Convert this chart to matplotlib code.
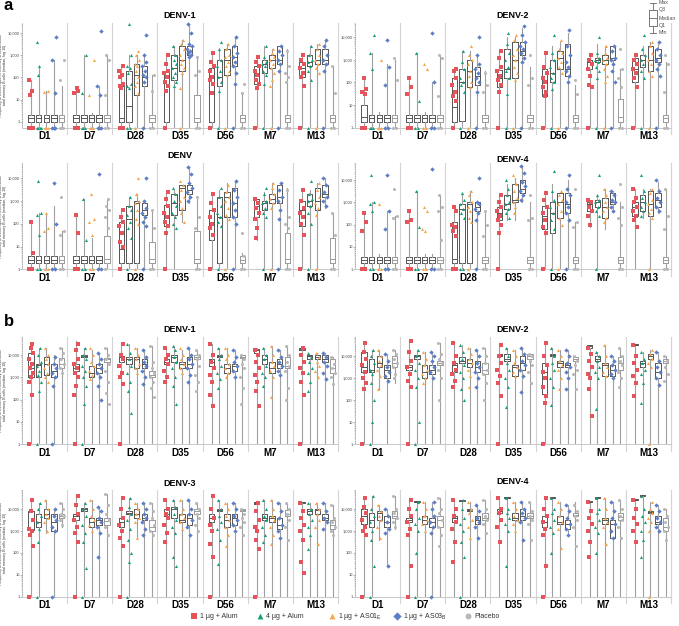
import numpy as np
import matplotlib
matplotlib.use("Agg")
import matplotlib.pyplot as plt

plt.rcParams['font.family'] = ['Liberation Sans', 'DejaVu Sans']

TIMEPOINTS = ['D1', 'D7', 'D28', 'D35', 'D56', 'M7', 'M13']
GROUPS = ['1 µg + Alum', '4 µg + Alum', r'1 µg + AS01$_\mathregular{E}$',
          r'1 µg + AS03$_\mathregular{B}$', 'Placebo']
COLORS = ['#E5535B', '#17A077', '#F6A64B', '#5B7EC6', '#B8B8B8']
MARKERS = ['s', '^', '^', 'D', 'o']
TICK_LABELS = ['1', '10', '100', '1,000', '10,000']

# Values are log10(frequency per million); "z" = zero (drawn on the baseline)
# box strings: "whisker_low q1 median q3 whisker_high"; order: timepoint x group
A_DENV1_BOX = [
    "z 0 .15 .3 1.9", "z 0 .15 .3 2.5", "z 0 .15 .3 1.4", "z 0 .15 .3 2.8", "z 0 .15 .3 1.6",
    "z 0 .15 .3 1.5", "z 0 .15 .3 3.0", "z 0 .15 .3 .4", "z 0 .15 .3 1.6", "z 0 .15 .3 3.0",
    "z 0 .15 1.6 2.5", "z 0 .7 2.3 3.0", "z 1.2 2.1 2.6 3.0", "z 1.6 2.0 2.5 3.0", "z 0 .15 .3 2.1",
    "z 0 2.0 2.3 3.0", "z 1.9 2.4 3.0 3.4", "z 2.3 2.8 3.4 3.7", "z 3.0 3.2 3.4 4.4", "z 0 .15 1.2 2.9",
    "z 0 2.0 2.4 3.1", "z 1.6 2.0 2.8 3.3", "z 2.1 2.8 3.3 3.5", "z 2.5 2.9 3.4 3.8", "z 0 .15 .3 1.3",
    "z 1.7 2.2 2.5 2.9", "z 2.2 2.6 2.8 3.4", "z 2.4 2.8 3.0 3.3", "z 2.6 2.8 3.4 3.4", "z 0 .15 .3 3.3",
    "z 2.0 2.4 2.7 3.0", "z 2.5 2.7 3.0 3.4", "z 2.6 2.8 3.3 3.5", "z 2.6 2.8 3.3 3.7", "z 0 .15 .3 2.5"]
A_DENV1_PTS = [
    "z z z z 1.9 1.4 1.2", "z z z z 3.6 2.5 2.1", "z z z 1.4 1.35", "z z z 3.8 2.8 1.3", "z z z 2.8 1.9",
    "z z z 1.4 1.3 1.5", "z z z 3.0 1.3", "z z z 2.8 1.2", "z z z 4.1 1.6 1.2", "z z 3.0 2.8 1.2",
    "z z z 2.5 2.3 2.1 2.0 1.7 1.5 1.6", "z z 4.4 3.0 2.5 2.4 2.2 1.7 1.5 1.6",
    "z 3.2 3.0 2.8 2.6 2.5 2.3 2.0 1.8 1.6 1.3", "z 3.9 3.0 2.7 2.5 2.3 2.1 2.0 1.8", "z z 1.4 2.1",
    "z 3.0 2.6 2.3 2.2 2.0 1.8 1.6 1.4", "3.4 3.0 2.8 2.6 2.4 2.2 2.0 1.8 1.6",
    "z 3.7 3.5 3.3 3.0 2.8 2.6 2.4 2.2 1.5", "4.4 4.0 3.5 3.4 3.3 3.2 3.1 3.0 2.9", "z z 2.9 2.3 2.1",
    "z 3.1 2.7 2.5 2.3 2.0 1.9 1.7 1.3", "z 3.6 3.3 2.8 2.5 2.3 2.0 1.8 1.4",
    "z 3.5 3.3 3.0 2.9 2.7 2.5 2.3 2.1", "z 3.8 3.4 3.1 2.9 2.7 2.5 2.2 1.7", "z z 1.3 1.7",
    "z 2.9 2.7 2.5 2.3 2.1 1.9 1.7 1.5", "z 3.4 2.9 2.7 2.6 2.5 2.3 2.1 1.7",
    "z 3.3 3.1 2.9 2.8 2.6 2.4 2.2 1.9 1.6", "z 3.4 3.2 3.0 2.8 2.6 2.3", "z z 3.2 2.5 2.2 2.0 1.8",
    "z 3.0 2.8 2.6 2.4 2.2 2.0 1.6", "z 3.4 3.0 2.8 2.7 2.5 2.3 1.9",
    "z 3.5 3.3 3.0 2.8 2.6 2.4 2.2", "z 3.7 3.4 3.0 2.8 2.6 2.3", "z z 2.5 1.3"]

A_DENV2_BOX = [
    "z .27 .48 1.0 2.2", "z .27 .42 .57 3.3", "z .27 .42 .57 .7", "z .27 .42 .57 2.8", "z .27 .42 .57 3.0",
    "z .27 .42 .57 2.2", "z .27 .42 .57 3.3", "z .27 .42 .57 .7", "z .27 .42 .57 2.0", "z .27 .42 .57 3.2",
    "z .27 .9 2.2 2.6", "z .3 2.0 2.6 3.4", "z 1.8 2.5 3.0 3.4", "z 1.9 2.3 2.7 3.2", "z .27 .42 .57 2.5",
    "z 1.8 2.2 2.55 3.4", "z 2.2 2.6 3.5 4.0", "z 2.2 3.0 3.8 4.0", "z 3.2 3.4 3.8 4.4", "z .27 .42 .57 2.7",
    "z 1.4 2.0 2.6 3.3", "z 2.0 2.4 3.0 3.6", "z 2.6 3.1 3.4 3.8", "z 2.3 2.6 3.7 4.2", "z .27 .42 .57 1.9",
    "z 2.6 2.9 3.0 3.2", "z 2.9 3.0 3.1 3.7", "z 2.8 3.0 3.2 3.6", "z 3.0 3.1 3.6 3.6", "z .27 .48 1.25 2.6",
    "z 2.0 2.6 3.1 3.2", "z 2.7 3.0 3.2 3.6", "z 2.5 3.0 3.6 3.8", "z 2.9 3.1 3.5 3.7", "z .27 .42 .57 2.9"]
A_DENV2_PTS = [
    "z z 2.2 1.7 1.6 1.5", "z z z 4.1 3.3 2.6", "z z z 3.0", "z z 3.9 2.7 1.9", "z z 3.1 2.1",
    "z z 2.2 1.8 1.5", "z z 3.3 1.2", "z z 2.8 2.6", "z z 4.2 2.0", "z z 3.2 3.1 1.4",
    "z 2.6 2.5 2.2 1.9 1.6 1.4 1.2", "z 3.4 2.9 2.6 2.2 2.0 1.9 1.6",
    "z 3.6 3.2 3.0 2.8 2.5 2.3 2.0 1.8", "z 4.0 3.2 2.8 2.6 2.4 2.2 2.0 1.6", "z z 2.4 1.9 1.6",
    "z 3.4 3.1 2.7 2.5 2.3 2.1 1.9 1.6", "z 4.2 3.7 3.3 3.0 2.7 2.5 2.2 1.5",
    "z 4.1 3.9 3.5 3.2 3.0 2.7 2.4 2.1", "z 4.5 4.1 3.8 3.6 3.5 3.3 3.1 2.9", "z z 3.2 2.2 1.9",
    "z 3.3 2.7 2.4 2.2 2.0 1.8 1.6 1.4", "z 4.1 3.3 3.0 2.7 2.4 2.2 2.0 1.7",
    "z 3.9 3.5 3.3 3.1 2.9 2.7 2.4", "z 4.3 3.6 3.2 2.9 2.7 2.5 2.3 2.0", "z z 2.1 1.5",
    "z 3.2 3.0 2.8 2.6 2.3 1.9 1.8", "z 4.0 3.3 3.1 3.0 2.9 2.7 2.5 2.2",
    "z 3.6 3.3 3.1 3.0 2.8 2.6 2.3 2.0", "z 3.6 3.4 3.1 3.0 2.8 2.5 2.0", "z z 3.5 2.6 2.2 1.8",
    "z 3.2 3.0 2.8 2.6 2.4 2.2 1.8", "z 4.1 3.5 3.2 3.0 2.8 2.5 2.2",
    "z 3.8 3.6 3.3 3.0 2.8 2.5 2.3", "z 3.8 3.5 3.2 3.0 2.8 2.6 2.3", "z z 3.2 2.8 1.6"]

A_DENV_BOX = [
    "z .27 .42 .57 2.1", "z .27 .42 .57 2.5", "z .27 .42 .57 2.5", "z .27 .42 .57 2.8", "z .27 .42 .57 1.7",
    "z .27 .42 .57 2.4", "z .27 .42 .57 3.1", "z .27 .42 .57 1.4", "z .27 .42 .57 .6", "z .27 .45 1.45 3.1",
    "z .27 .9 2.1 2.6", "z .27 2.2 2.8 3.2", "z .27 2.9 3.0 3.3", "z 2.4 2.6 2.9 3.0", "z .27 .45 1.2 2.6",
    "z 1.9 2.3 2.85 3.3", "z 2.4 2.9 3.3 3.5", "2.1 2.6 3.6 3.7 3.7", "2.9 3.3 3.5 3.7 4.5", "z .27 .45 1.7 3.2",
    "z 1.3 2.0 2.6 3.3", "z .27 2.3 3.2 3.5", "z 2.3 3.2 3.4 3.8", "z 2.3 2.9 3.6 3.9", "z .27 .42 .6 .7",
    "1.3 2.3 2.8 3.1 3.1", "z 2.6 2.9 3.0 3.4", "z 2.9 3.1 3.3 3.8", "z 2.9 3.2 3.7 3.8", "z .27 .45 1.6 3.6",
    "z 1.9 2.6 3.0 3.5", "z 2.8 3.0 3.3 3.5", "z 2.6 3.0 3.6 3.8", "2.7 3.2 3.3 3.7 4.0", "z .27 .45 1.4 2.5"]
A_DENV_PTS = [
    "z z 2.1 .7", "z z 3.9 2.5 2.4 1.5", "z z 2.5 1.8 1.7", "z z 3.8 2.0", "z z 3.2 1.7 1.5",
    "z z 2.4 1.6", "z z 3.1 1.3", "z z 3.3 2.2 2.1 1.5", "z z 4.2", "z 3.1 2.8 2.6 2.3 1.8",
    "z 2.6 2.3 2.1 1.9 1.6 1.2 1.0", "z 3.2 2.8 2.6 2.4 2.1 1.8 1.4",
    "z 4.0 3.3 3.0 2.9 2.6 2.2 2.0", "z 4.0 3.0 2.7 2.5 2.3 2.1 1.9", "z z 2.6 1.8",
    "z 3.4 3.1 2.8 2.5 2.3 2.1 1.9 1.6", "3.6 3.3 3.0 2.8 2.5 2.3 2.0 1.8",
    "3.9 3.7 3.5 3.2 3.0 2.7 2.5 2.1", "4.5 4.2 3.8 3.6 3.4 3.2 3.0", "z z 3.2 2.3 1.8",
    "z 3.3 2.9 2.6 2.3 2.0 1.8 1.5", "z 3.6 3.2 2.8 2.5 2.3 2.1 1.9",
    "z 3.7 3.4 3.2 3.0 2.7 2.4 2.2", "z 3.9 3.5 3.2 2.9 2.6 2.3 2.0", "z z 1.6 .6",
    "3.1 2.9 2.7 2.5 2.2 1.8 1.4", "z 3.6 3.3 3.0 2.9 2.7 2.5 2.3",
    "z 3.8 3.6 3.3 3.1 2.9 2.7", "z 3.8 3.5 3.2 3.0 2.6 2.2", "z z 3.5 2.3 2.0 1.8",
    "z 3.5 3.0 2.7 2.5 2.3 2.0 1.5", "z 3.9 3.3 3.1 3.0 2.8 2.5 2.0",
    "z 3.8 3.5 3.2 2.9 2.7 2.4", "4.0 3.7 3.4 3.2 3.0 2.8", "z z 2.5 1.5"]

A_DENV4_BOX = [
    "z .27 .42 .57 2.5", "z .27 .42 .57 3.0", "z .27 .42 .57 .7", "z .27 .42 .57 2.6", "z .27 .42 .57 2.4",
    "z .27 .42 .57 2.6", "z .27 .42 .57 3.5", "z .27 .42 .57 .7", "z .27 .42 .57 .7", "z .27 .42 .57 3.3",
    "z .27 .45 2.1 2.8", "z .27 2.7 2.9 3.4", "z .27 2.9 3.0 3.5", "z 2.6 2.8 3.0 3.0", "z .27 .42 .57 2.6",
    "z 2.2 2.5 2.8 3.3", "2.2 2.7 2.9 3.3 3.8", "2.2 3.0 3.1 3.8 4.1", "3.0 3.4 3.6 4.0 4.6", "z .27 .42 .57 3.0",
    "z 1.8 2.4 2.85 3.4", "z 1.6 2.5 3.0 3.8", "z 2.3 3.0 3.4 3.4", "z 2.5 2.9 3.4 4.0", "z .27 .42 .57 2.1",
    "1.9 2.6 2.9 3.0 3.1", "z 2.8 3.0 3.1 3.3", "1.8 2.3 2.8 3.2 3.6", "2.6 2.9 3.0 3.4 3.5", "z .27 .42 .57 3.0",
    "z 2.4 2.8 3.0 3.6", "2.3 2.6 3.0 3.3 3.6", "z 2.4 2.9 3.5 3.6", "2.5 2.8 3.1 3.4 3.9", "z .27 .42 .57 3.6"]
A_DENV4_PTS = [
    "z z 2.5 2.1 1.7", "z z 4.2 3.0 2.9 2.6", "z z 2.9", "z z 4.2 2.6 1.8", "z z 3.6 2.4 2.3",
    "z z 2.6 2.2 2.1", "z z 3.5 1.9", "z z 2.8 2.6 1.8 1.7", "z z 4.5", "z z 3.3 2.8 2.6 1.3",
    "z z 2.8 2.6 2.0 1.9 1.7 1.5", "z z 3.4 3.1 2.9 2.7 2.5 2.3",
    "z 3.5 3.3 3.0 2.8 2.6 2.3 2.1", "z 4.1 3.0 2.9 2.7 2.5 2.2", "z z 2.6 2.0 1.5",
    "z 3.3 3.0 2.8 2.6 2.4 2.2 2.0 1.6", "4.0 3.6 3.3 3.0 2.9 2.7 2.5 2.3",
    "4.2 3.8 3.5 3.2 3.0 2.8 2.5", "4.6 4.3 3.9 3.7 3.5 3.3 3.1", "z z 3.3 2.3 2.2",
    "z 3.4 3.1 2.8 2.5 2.2 1.9 1.6", "z 4.4 3.5 3.1 2.8 2.5 2.2 1.8",
    "z 3.5 3.3 3.1 2.9 2.6 2.3 2.0", "z 4.2 3.6 3.3 3.0 2.8 2.5 2.2", "z z 3.6 2.1 1.9",
    "3.1 3.0 2.8 2.6 2.4 2.0", "z 4.2 3.3 3.1 3.0 2.8 2.6 2.4",
    "3.6 3.3 3.0 2.8 2.6 2.3 2.1", "3.5 3.3 3.1 3.0 2.8 2.6", "z z 3.8 2.8 2.3 2.0",
    "3.6 3.2 3.0 2.8 2.6 2.4 2.2 1.9", "4.2 3.5 3.2 3.0 2.8 2.6 2.4",
    "z 3.6 3.4 3.1 2.9 2.7 2.5 2.3", "4.0 3.5 3.2 3.0 2.8 2.6", "z z 3.6 2.4 1.8"]

B_DENV1_BOX = [
    "z 3.0 3.4 4.07 4.5", "z 3.0 3.55 3.6 4.3", "z 3.1 3.6 3.9 4.3", "z 3.0 3.3 3.6 4.0", "z 3.4 3.6 3.85 4.3",
    "z 3.3 3.4 3.6 4.6", "z 3.9 3.95 4.0 4.3", "z 3.0 3.2 3.5 4.2", "z 3.2 3.4 3.6 4.1", "z 3.7 3.8 3.85 4.3",
    "z 3.7 3.9 3.95 4.5", "z 3.6 3.8 3.9 4.5", "z 3.4 3.8 3.9 4.3", "z 3.4 3.6 3.8 4.2", "z 3.0 3.1 3.3 4.4",
    "z 3.6 3.7 3.8 4.3", "z 3.7 3.9 4.0 4.4", "z 3.4 3.6 3.7 4.2", "z 3.4 3.6 3.9 4.3", "z 3.8 3.9 4.0 4.2",
    "z 3.5 3.7 3.8 4.5", "z 3.9 3.95 4.0 4.3", "z 3.2 3.4 3.6 4.3", "z 3.3 3.5 3.6 4.2", "z 3.85 3.9 4.0 4.0",
    "z 4.1 4.2 4.25 4.3", "z 3.6 3.8 4.0 4.3", "z 3.2 3.4 3.7 4.4", "z 3.4 3.6 3.8 4.2", "z 3.4 3.5 3.9 4.4",
    "z 4.2 4.25 4.3 4.3", "z 3.8 3.95 4.0 4.0", "z 3.8 3.9 4.0 4.1", "z 3.7 3.8 4.0 4.1", "z 3.2 3.4 3.8 3.9"]
B_DENV1_PTS = [
    "z 4.5 4.3 4.1 3.8 3.6 3.4 3.2 3.0 2.8 2.2", "z 4.3 4.0 3.7 3.5 3.3 3.1 2.8 2.4",
    "4.3 4.0 3.8 3.6 3.4 3.2 3.0 2.8", "z 3.9 3.6 3.4 3.2 3.0 2.6", "4.3 4.1 3.8 3.6 3.4 3.2",
    "z 4.5 4.2 3.8 3.6 3.4 3.2 3.0 2.6 2.2", "z 4.3 4.0 3.8 3.5 3.3 3.0 2.6 1.8",
    "4.3 4.0 3.7 3.5 3.3 3.1 2.9", "4.1 3.8 3.6 3.4 3.2 3.0 2.6 2.0", "4.3 4.0 3.8 3.6 3.3 2.8 2.3 1.8",
    "z 4.5 4.0 3.8 3.5 3.2 3.0 2.7", "4.5 4.1 3.8 3.5 3.2 2.8 2.4 1.4",
    "4.3 4.0 3.8 3.6 3.4 3.2", "4.2 3.9 3.7 3.5 3.3 3.0 2.7", "4.4 3.7 3.4 3.2 3.0 2.8 2.5 2.1",
    "4.3 4.0 3.8 3.6 3.3 3.0 2.8", "4.4 4.2 3.9 3.7 3.4 3.0 2.6 1.8",
    "4.3 4.0 3.8 3.6 3.4 3.2", "4.3 4.0 3.8 3.6 3.4 3.1 2.8", "4.2 4.0 3.8 3.5 3.1 2.8 2.4",
    "4.5 4.0 3.7 3.4 3.1 2.8 2.2 1.7", "4.3 4.0 3.8 3.5 3.2 2.9 2.5",
    "4.3 4.0 3.8 3.6 3.4 3.2 3.0", "4.2 3.9 3.7 3.5 3.3 3.0", "4.0 3.8 3.6 3.4 3.0 2.5 1.8",
    "4.2 4.0 3.7 3.4 3.1 2.8 2.4 1.7", "4.3 4.0 3.8 3.5 3.2 3.0 2.6",
    "4.4 4.0 3.7 3.5 3.3 3.0 2.1", "4.2 3.9 3.7 3.5 3.3 3.1", "4.4 4.0 3.7 3.5 3.3 2.5 2.0",
    "z 4.3 4.0 3.7 3.4 3.2 2.8 2.2", "4.1 3.9 3.7 3.4 3.2 2.8 2.4",
    "4.1 3.9 3.7 3.5 3.3 3.0", "4.1 3.9 3.7 3.5 3.2 2.9", "3.9 3.6 3.4 3.2 3.0 2.7"]

B_DENV2_BOX = [
    "z 3.3 3.5 4.2 4.6", "z 3.3 3.4 3.9 4.3", "2.5 3.5 3.7 4.0 4.3", "z 3.0 3.4 3.6 4.1", "2.8 3.5 3.7 4.0 4.3",
    "z 3.4 3.5 3.6 4.7", "z 3.9 4.0 4.05 4.3", "z 3.0 3.3 3.6 4.2", "z 3.2 3.4 3.6 4.2", "z 3.6 3.7 3.8 4.6",
    "z 3.3 3.6 3.7 4.6", "z 3.7 3.8 3.95 4.5", "z 3.5 3.7 3.9 4.4", "z 3.3 3.5 3.8 4.3", "z 3.2 3.4 3.7 4.4",
    "z 4.0 4.05 4.1 4.6", "z 3.8 3.9 4.1 4.4", "z 3.1 3.5 3.6 4.3", "z 3.4 3.7 4.0 4.4", "z 3.9 4.0 4.1 4.1",
    "z 2.3 3.3 3.7 4.6", "z 4.0 4.05 4.1 4.4", "z 3.5 3.7 3.8 4.3", "z 3.5 3.6 3.7 4.3", "z 3.8 3.9 3.95 4.0",
    "z 4.4 4.45 4.5 4.5", "z 3.8 3.9 4.0 4.2", "z 3.1 3.6 3.7 4.5", "z 3.1 3.4 3.6 4.0", "z 3.4 3.7 3.95 4.4",
    "z 4.5 4.52 4.55 4.55", "z 3.5 3.7 3.8 4.2", "z 3.9 4.0 4.1 4.3", "z 3.0 3.3 3.7 4.2", "z 3.7 3.8 3.9 4.0"]
B_DENV2_PTS = [
    "z 4.6 4.2 3.9 3.6 3.3 3.0 2.8 2.5", "z 4.3 4.0 3.7 3.4 3.2 2.8 2.0 1.0",
    "4.3 4.0 3.8 3.6 3.4 3.1 2.5", "4.1 3.8 3.5 3.3 3.1 2.9", "4.3 4.1 3.9 3.7 3.5 3.2 3.0",
    "z 4.7 4.2 3.8 3.5 3.2 2.9 2.6", "z 4.3 4.0 3.7 3.4 3.0 2.6 1.0",
    "4.2 3.9 3.6 3.4 3.2 3.0 2.8", "4.2 4.0 3.8 3.5 3.3 3.0", "4.6 4.1 3.9 3.7 3.4 3.0 2.0",
    "4.6 4.0 3.7 3.4 3.2 2.9 2.6", "4.5 4.2 3.9 3.6 3.3 3.0 2.5 2.0",
    "4.4 4.1 3.9 3.7 3.4 3.1 2.6", "4.3 4.0 3.7 3.5 3.3 3.0 2.6", "4.4 4.0 3.7 3.4 3.2 2.8 2.0",
    "z 4.5 4.0 3.7 3.4 3.1 2.8 2.2", "4.4 4.0 3.7 3.4 3.0 2.6 1.7",
    "4.3 4.0 3.7 3.5 3.3 3.1", "4.4 4.1 3.8 3.6 3.4 3.1 2.4", "4.1 4.0 3.8 3.6 3.3 2.8",
    "z 4.6 4.0 3.6 3.3 3.0 2.6 2.2 1.9", "4.4 4.0 3.7 3.4 3.0 2.6 1.8",
    "4.3 4.0 3.8 3.6 3.4 3.0 2.5", "4.3 4.0 3.7 3.5 3.3 3.0 2.5", "4.0 3.8 3.6 3.4 3.2 2.5",
    "4.4 4.1 3.8 3.5 3.2 3.0 2.5 1.3", "4.2 4.0 3.8 3.5 3.3 3.0 1.6",
    "4.5 4.0 3.7 3.5 3.3 3.1", "4.0 3.8 3.6 3.4 3.2 3.0", "4.4 4.0 3.8 3.6 3.3 3.0 2.6",
    "4.5 4.0 3.7 3.4 3.1 2.8 2.2", "4.2 3.9 3.7 3.4 3.2 2.8 1.9",
    "z 4.3 4.1 3.9 3.7 3.5", "4.2 3.8 3.5 3.3 3.0 2.7", "4.0 3.8 3.5 3.2 2.9"]

B_DENV3_BOX = [
    "z 3.05 3.1 3.9 4.5", "z 3.2 3.4 3.8 4.3", "2.9 3.6 3.8 4.0 4.4", "z 3.0 3.4 3.8 4.0", "3.2 3.6 3.7 3.8 4.3",
    "z 3.5 3.7 3.8 4.6", "z 3.9 4.0 4.05 4.3", "z 3.2 3.4 3.6 4.4", "z 3.3 3.5 3.6 4.1", "z 3.3 3.45 3.6 4.7",
    "z 3.2 3.4 3.6 4.5", "z 3.8 3.85 3.9 4.5", "2.7 3.6 3.8 4.0 4.3", "z 3.5 3.6 3.8 4.3", "z 3.0 3.2 3.5 4.3",
    "z 3.7 3.8 4.0 4.4", "z 3.6 4.0 4.1 4.4", "z 3.4 3.5 3.8 4.4", "z 3.3 3.6 3.8 4.4", "z 3.8 3.9 4.0 4.3",
    "z 3.4 3.6 3.8 4.6", "z 3.9 3.95 4.0 4.4", "z 3.2 3.5 3.8 4.3", "z 3.3 3.6 3.8 4.3", "z 3.9 3.95 4.0 4.0",
    "z 4.25 4.3 4.35 4.35", "z 3.5 3.6 3.8 4.4", "z 3.4 3.6 3.7 4.4", "z 3.1 3.3 3.6 4.3", "z 3.7 3.8 3.95 4.3",
    "z 4.3 4.32 4.35 4.35", "z 3.8 3.9 4.0 4.3", "z 3.8 3.95 4.0 4.3", "z 3.5 3.6 3.8 4.3", "z 3.1 3.3 3.5 4.2"]
B_DENV3_PTS = [
    "z 4.4 3.9 3.5 3.1 3.0 2.8 2.3", "z 4.3 4.0 3.7 3.4 3.1 2.5",
    "4.4 4.0 3.8 3.6 3.4 3.0", "z 4.0 3.7 3.5 3.2 3.0", "4.3 4.0 3.8 3.7 3.5 3.3",
    "z 4.6 4.2 3.8 3.5 3.2 2.9 2.5", "z 4.3 4.0 3.7 3.3 2.9 2.5 1.3",
    "4.4 4.0 3.7 3.5 3.3 3.0", "4.1 3.9 3.6 3.4 3.2 2.9 1.8", "4.7 4.2 3.8 3.5 3.2 2.8",
    "z 4.5 4.0 3.6 3.3 3.0 2.7 2.3", "z 4.5 4.1 3.8 3.5 3.1 2.6 2.0 1.6",
    "4.3 4.0 3.8 3.6 3.4 2.7", "4.3 4.0 3.8 3.6 3.4 3.1 2.8", "4.3 3.9 3.6 3.3 3.0 2.8",
    "4.4 4.0 3.8 3.6 3.3 2.9 2.5", "4.4 4.1 3.8 3.5 3.2 2.9 1.8 1.4",
    "4.4 4.0 3.8 3.6 3.4 3.1", "4.4 4.0 3.8 3.5 3.2 2.8", "4.3 4.0 3.8 3.6 3.3 3.0",
    "z 4.6 4.0 3.6 3.3 3.0 2.4 1.8", "4.4 4.0 3.7 3.4 3.1 2.6 1.5",
    "4.3 4.0 3.7 3.5 3.2 2.8 2.3", "4.3 4.0 3.7 3.5 3.3 3.0", "4.0 3.8 3.6 3.4 3.2 2.8",
    "z 4.3 3.9 3.5 3.2 3.0 2.6 2.2", "4.4 4.0 3.7 3.5 3.2 2.8 2.5",
    "4.4 4.0 3.7 3.5 3.2 2.8 2.4", "4.3 3.9 3.6 3.3 3.0 2.7", "4.3 4.0 3.8 3.5 3.2 2.6",
    "4.3 3.9 3.6 3.3 3.0 2.6 1.6 1.1", "4.3 4.0 3.8 3.5 3.2 2.8 2.2",
    "4.3 4.0 3.8 3.5 3.2 2.4", "4.3 3.9 3.6 3.4 3.1", "4.2 3.6 3.4 3.2 3.0 2.8"]

B_DENV4_BOX = [
    "z 3.3 3.7 4.0 4.5", "z 3.2 3.5 3.8 4.6", "2.6 3.5 3.8 3.9 4.2", "1.4 3.2 3.4 3.7 4.0", "3.1 3.6 3.7 3.9 4.6",
    "z 3.4 3.5 3.6 4.4", "z 4.3 4.32 4.35 4.35", "z 3.3 3.5 3.7 4.3", "z 3.2 3.4 3.6 4.3", "z 3.2 3.5 3.7 4.5",
    "z 3.4 3.6 3.7 4.4", "z 4.35 4.38 4.4 4.4", "z 3.9 3.95 4.0 4.3", "z 3.3 3.5 3.7 4.2", "z 3.5 3.6 3.8 4.4",
    "z 3.8 3.9 4.0 4.5", "z 4.5 4.52 4.55 4.55", "z 3.5 3.6 3.8 4.3", "z 3.5 3.7 4.0 4.3", "z 3.6 3.7 3.8 4.3",
    "z 3.2 3.4 3.7 4.5", "z 4.5 4.52 4.55 4.55", "z 3.3 3.4 3.7 4.3", "2.8 3.1 3.3 3.5 4.2", "z 3.7 3.75 3.8 4.3",
    "z 4.3 4.32 4.35 4.35", "z 4.5 4.52 4.55 4.55", "z 3.3 3.5 3.6 4.5", "z 2.7 3.3 3.5 4.3", "z 3.5 3.65 3.8 4.4",
    "z 4.4 4.42 4.45 4.45", "z 4.6 4.62 4.65 4.65", "z 3.8 3.85 3.9 4.3", "z 3.3 3.4 3.7 4.2", "z 3.0 3.2 3.6 4.0"]
B_DENV4_PTS = [
    "z 4.5 4.1 3.8 3.5 3.2 3.0 2.8", "z 4.6 4.0 3.7 3.4 3.0 2.6 1.4",
    "4.2 3.9 3.7 3.5 3.2 2.7", "4.0 3.7 3.4 3.1 2.9 1.4", "4.6 4.0 3.8 3.6 3.4 3.2",
    "z 4.4 4.0 3.7 3.4 3.1 2.8 1.4", "z 4.3 4.0 3.6 3.3 3.0 2.0",
    "4.3 4.0 3.7 3.5 3.3 3.0", "z 4.3 4.0 3.7 3.4 3.2 2.9", "4.5 4.0 3.8 3.5 3.2 2.8 2.3",
    "4.4 4.0 3.7 3.4 3.1 2.5 1.6", "z 4.4 4.0 3.6 3.3 3.0 2.5 1.8",
    "4.3 4.0 3.8 3.5 3.2 2.7", "4.2 3.9 3.6 3.4 3.2 2.7", "4.4 4.0 3.7 3.5 3.3 2.9",
    "4.5 4.0 3.8 3.5 3.2 2.5", "4.5 4.0 3.8 3.6 3.3 3.0 1.4",
    "4.3 4.0 3.7 3.5 3.3 3.0", "4.3 4.0 3.8 3.6 3.4 2.6", "4.3 3.9 3.7 3.5 3.3 2.6",
    "z 4.5 4.0 3.7 3.4 3.1 2.8 1.4", "4.5 4.0 3.8 3.5 3.2 2.9 2.0",
    "4.3 4.0 3.7 3.4 3.1 2.2", "4.2 3.9 3.6 3.3 3.1 2.8", "4.2 3.9 3.7 3.5 3.2 2.3",
    "4.3 3.9 3.6 3.3 3.0 2.5 1.8", "4.5 4.0 3.8 3.5 3.2 2.9 2.0",
    "4.5 4.0 3.6 3.4 3.2 2.4", "4.3 3.9 3.6 3.3 3.0 2.7", "4.4 4.0 3.7 3.5 3.2 2.7",
    "4.4 4.0 3.6 3.3 3.0 2.5", "4.6 4.0 3.7 3.4 3.0 2.6 1.8",
    "z 4.3 4.0 3.8 3.6 3.4 3.0", "4.2 3.9 3.6 3.4 3.2 3.0", "4.0 3.7 3.4 3.2 3.0 2.6"]

W, H = 679, 626
fig = plt.figure(figsize=(W / 100, H / 100), dpi=100)

# (box data, point data, title, x0, x1, ytop, ybottom, ylim, title_y, ylabel)
PANELS = [
    (A_DENV1_BOX, A_DENV1_PTS, 'DENV-1', 22, 338, 23, 127.7, (-0.27, 4.45), 15.5, True),
    (A_DENV2_BOX, A_DENV2_PTS, 'DENV-2', 355, 671, 23, 127.7, (0, 4.63), 15.5, False),
    (A_DENV_BOX, A_DENV_PTS, 'DENV', 22, 338, 163, 269.3, (0, 4.68), 156, True),
    (A_DENV4_BOX, A_DENV4_PTS, 'DENV-4', 355, 671, 163, 269.3, (0, 4.75), 160, False),
    (B_DENV1_BOX, B_DENV1_PTS, 'DENV-1', 22, 338, 337, 444.3, (0, 4.8), 329, True),
    (B_DENV2_BOX, B_DENV2_PTS, 'DENV-2', 355, 671, 337, 444.3, (0, 4.88), 330, False),
    (B_DENV3_BOX, B_DENV3_PTS, 'DENV-3', 22, 338, 490, 596.7, (0, 4.88), 483, True),
    (B_DENV4_BOX, B_DENV4_PTS, 'DENV-4', 355, 671, 490, 596.7, (0, 4.87), 482, False),
]

JIT = np.array([-0.035, 0.03, -0.01, 0.045, -0.045, 0.015, -0.025, 0.04, 0.0, -0.04, 0.02])
BOXW = 0.12
NARROW = ['Liberation Sans Narrow', 'Liberation Sans', 'DejaVu Sans']
YLAB = "Frequency of DENV-specific memory B cells/million\ntotal memory B cells (median, log 10)"


def parse(s, zero):
    return [zero if t == 'z' else float(t) for t in s.split()]


for box, pts, title, x0, x1, yt, yb, ylim, ty, ylab in PANELS:
    ax = fig.add_axes([x0 / W, 1 - yb / H, (x1 - x0) / W, (yb - yt) / H])
    zero = ylim[0]
    stats, pos = [], []
    for k, s in enumerate(box):
        t, g = divmod(k, 5)
        lo, q1, med, q3, hi = parse(s, zero)
        stats.append(dict(med=med, q1=q1, q3=q3, whislo=lo, whishi=hi, fliers=[]))
        pos.append(t + 0.2 + g * 0.17)
    for g in range(5):
        sel = [k for k in range(len(box)) if k % 5 == g]
        ec = '#9a9a9a' if g == 4 else '#555555'
        ax.bxp([stats[k] for k in sel], positions=[pos[k] for k in sel], widths=BOXW,
               showcaps=False, showfliers=False, manage_ticks=False,
               boxprops=dict(color=ec, lw=0.7),
               medianprops=dict(color=ec, lw=0.7),
               whiskerprops=dict(color='#a0a0a0', lw=0.8), zorder=2)
    for k, s in enumerate(pts):
        g = k % 5
        vals = parse(s, zero)
        xs = pos[k] + JIT[np.arange(len(vals)) % len(JIT)]
        ax.scatter(xs, vals, s=5, marker=MARKERS[g], color=COLORS[g], lw=0,
                   zorder=3, clip_on=False)
    ax.set_xlim(0, 7)
    ax.set_ylim(*ylim)
    for xv in range(1, 8):
        ax.axvline(xv, ymin=-0.06, ymax=1, color='#d4d4d4', lw=0.8, clip_on=False, zorder=1)
    ax.set_xticks(np.arange(7) + 0.5)
    ax.set_xticklabels(TIMEPOINTS, fontsize=7, fontweight='bold', family=NARROW)
    ax.tick_params(axis='x', length=0, pad=2.5)
    ax.set_yticks(range(5))
    ax.set_yticklabels(TICK_LABELS)
    minors = [d + np.log10(m) for d in range(5) for m in range(2, 10)
              if d + np.log10(m) < ylim[1]]
    ax.set_yticks(minors, minor=True)
    ax.tick_params(axis='y', which='major', labelsize=2.9, length=1.2, width=0.4,
                   color='#888888', pad=0.5, labelcolor='#444444')
    ax.tick_params(axis='y', which='minor', length=0.8, width=0.3, color='#aaaaaa')
    for sp in ['top', 'right']:
        ax.spines[sp].set_visible(False)
    ax.spines['left'].set_color('#999999')
    ax.spines['left'].set_linestyle(':')
    ax.spines['left'].set_linewidth(0.6)
    ax.spines['bottom'].set_color('#c8c8c8')
    ax.spines['bottom'].set_linewidth(0.7)
    ax.patch.set_alpha(0)
    fig.text((x0 + x1) / 2 / W, 1 - ty / H, title, ha='center', va='center',
             fontsize=6.5, fontweight='bold')
    if ylab:
        fig.text(3.4 / W, 1 - (yt + yb) / 2 / H, YLAB, rotation=90, ha='center',
                 va='center', fontsize=2.6, color='#333333', linespacing=1.0)

# overlay for panel letters and legends
ov = fig.add_axes([0, 0, 1, 1], zorder=5)
ov.set_xlim(0, W)
ov.set_ylim(H, 0)
ov.axis('off')
ov.patch.set_alpha(0)
ov.text(4, 6, 'a', fontsize=12, fontweight='bold', ha='left', va='center')
ov.text(4, 322, 'b', fontsize=12, fontweight='bold', ha='left', va='center')

# box-plot key (top right)
kc = '#666666'
ov.plot([653, 653], [3, 10], color=kc, lw=0.6)
ov.plot([653, 653], [26, 33], color=kc, lw=0.6)
ov.plot([650, 656], [3, 3], color=kc, lw=0.6)
ov.plot([650, 656], [33, 33], color=kc, lw=0.6)
ov.plot([649, 657, 657, 649, 649], [10, 10, 26, 26, 10], color=kc, lw=0.6)
ov.plot([649, 657], [18, 18], color=kc, lw=0.6)
for lab, yy in zip(['Max', 'Q3', 'Median', 'Q1', 'Min'], [3, 10, 18, 26, 33]):
    ov.text(659, yy, lab, fontsize=3.8, color='#555555', va='center', ha='left')

# group legend (bottom)
LEG_X = [194, 260, 332, 397, 468]
for g, xx in enumerate(LEG_X):
    ov.scatter([xx], [616], s=18, marker=MARKERS[g], color=COLORS[g], lw=0)
    ov.text(xx + 6, 616.5, GROUPS[g], fontsize=5, va='center', ha='left', color='#333333',
            family=NARROW)

fig.savefig('out.png', dpi=100)
